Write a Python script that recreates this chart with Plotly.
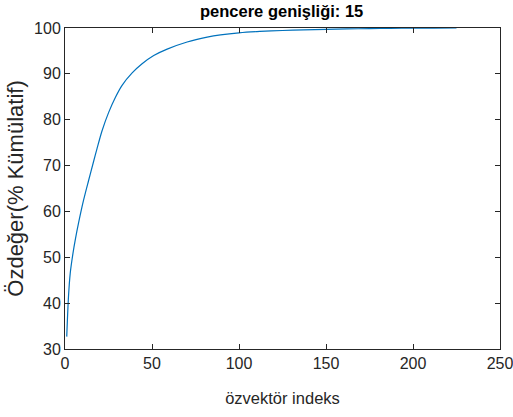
import plotly.graph_objects as go

# Data (eigenvector index vs cumulative eigenvalue %)
idx = [1, 2, 3, 4.6, 6, 7.8, 10.7, 13.6, 16.5, 18.4, 21.3, 25.1, 29.0, 32.8, 38.6, 44.3,
       51, 58.7, 70.2, 81.7, 89.4, 100, 112, 125, 137, 150, 162, 175, 187, 200, 212, 225]
cum = [32.7, 41.4, 46.5, 50.9, 54.0, 57.5, 62.5, 66.8, 71.0, 73.7, 77.6, 81.6, 84.9, 87.5, 90.2, 92.2,
       94.0, 95.4, 96.95, 98.0, 98.5, 98.95, 99.25, 99.45, 99.6, 99.7, 99.8, 99.87, 99.92, 99.96, 99.98, 100.0]

x_ticks = [0, 50, 100, 150, 200, 250]
y_ticks = [30, 40, 50, 60, 70, 80, 90, 100]

title_text = "pencere genişliği: 15"
x_title = "özvektör indeks"
y_title = "Özdeğer(% Kümülatif)"

FONT = "Liberation Sans, Arial, sans-serif"

fig = go.Figure()
fig.add_trace(go.Scatter(x=idx, y=cum, mode="lines",
                         line=dict(color="#0072BD", width=1.2, shape="spline", smoothing=0.8),
                         showlegend=False, hoverinfo="skip"))

axis_common = dict(
    showgrid=False, zeroline=False, showline=True, linecolor="#262626", linewidth=1,
    mirror="ticks", ticks="inside", ticklen=5, tickcolor="#262626", tickwidth=1,
    tickfont=dict(family=FONT, size=16, color="#262626"),
    ticklabeloverflow="allow", automargin=False,
)

fig.update_layout(
    width=513, height=417,
    margin=dict(l=65, r=13, t=28, b=68),
    paper_bgcolor="white", plot_bgcolor="white",
    title=dict(text="<b>" + title_text + "</b>", x=0.549, xanchor="center", y=0.972, yanchor="middle",
               font=dict(family=FONT, size=16.5, color="black")),
    xaxis=dict(range=[0, 250], tickvals=x_ticks,
               title=dict(text=x_title, font=dict(family=FONT, size=16.5, color="#262626"), standoff=21),
               **axis_common),
    yaxis=dict(range=[30, 100], tickvals=y_ticks,
               title=dict(text=y_title, font=dict(family=FONT, size=22, color="#262626"), standoff=4),
               **axis_common),
)

fig.write_html("out.html")
